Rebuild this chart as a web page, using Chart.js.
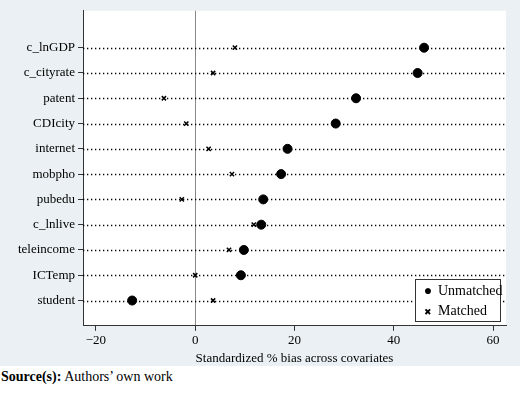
<!DOCTYPE html>
<html>
<head>
<meta charset="utf-8">
<script src="https://cdn.jsdelivr.net/npm/chart.js@4"></script>
<style>
  body { margin: 0; background: #fff; font-family: 'Liberation Serif', serif; }
  #wrap { position: relative; width: 520px; height: 366px; background: #eaf0f3; }
  #legend { position: absolute; left: 415px; top: 279px; width: 86px; height: 43px; background: #fff;
            border: 1px solid #333; font-size: 14px; line-height: 20px; padding: 1px 0 0 5px; box-sizing: border-box;
            white-space: nowrap; }
  #legend span.m { display: inline-block; width: 14px; text-align: center; margin-right: 3px; }
  #source { font-size: 14px; padding: 3px 0 0 1px; }
</style>
</head>
<body>
<div id="wrap">
  <canvas id="chart" width="520" height="366"></canvas>
  <div id="legend">
    <div><span class="m">&#9679;</span>Unmatched</div>
    <div><span class="m" style="font-size:9px">&#10006;</span>Matched</div>
  </div>
</div>
<div id="source"><b>Source(s):</b> Authors’ own work</div>
<script>
const variables = ['c_lnGDP', 'c_cityrate', 'patent', 'CDIcity', 'internet', 'mobpho', 'pubedu', 'c_lnlive', 'teleincome', 'ICTemp', 'student'];
const unmatched = [46.1, 44.8, 32.4, 28.3, 18.6, 17.3, 13.7, 13.3, 9.8, 9.2, -12.7];
const matched = [8.0, 3.6, -6.3, -1.8, 2.7, 7.4, -2.7, 11.8, 6.8, 0.0, 3.6];
const xTicks = [-20, 0, 20, 40, 60];

const font = { family: 'Liberation Serif', size: 13 };

const plotBg = {
    id: 'plotBg',
    beforeDraw(chart) {
        const a = chart.chartArea;
        const ctx = chart.ctx;
        ctx.save();
        ctx.fillStyle = '#fff';
        ctx.fillRect(a.left, a.top, a.right - a.left, a.bottom - a.top);
        ctx.restore();
    }
};

new Chart(document.getElementById('chart'), {
    type: 'scatter',
    data: {
        datasets: [
            {
                label: 'Unmatched',
                data: unmatched.map((v, i) => ({ x: v, y: i + 1 })),
                pointStyle: 'circle',
                pointRadius: 4.5,
                backgroundColor: '#000',
                borderColor: '#000'
            },
            {
                label: 'Matched',
                data: matched.map((v, i) => ({ x: v, y: i + 1 })),
                pointStyle: 'crossRot',
                pointRadius: 3,
                borderWidth: 1.5,
                borderColor: '#000'
            }
        ]
    },
    options: {
        responsive: false,
        animation: false,
        layout: { padding: { top: -7, right: 14 } },
        plugins: { legend: { display: false }, tooltip: { enabled: false } },
        scales: {
            x: {
                min: -22.6,
                max: 62.6,
                afterBuildTicks(scale) { scale.ticks = xTicks.map(v => ({ value: v })); },
                ticks: {
                    color: '#000', font: font, padding: 2,
                    callback: v => (v < 0 ? '\u2212' + Math.abs(v) : v)
                },
                grid: {
                    color: ctx => (ctx.tick && ctx.tick.value === 0 ? '#888' : 'rgba(0,0,0,0)'),
                    tickColor: '#333',
                    tickLength: 5
                },
                border: { color: '#333', width: 1 },
                title: { display: true, text: 'Standardized % bias across covariates', color: '#000', font: font, padding: 0 }
            },
            y: {
                reverse: true,
                min: -0.46,
                max: 12,
                afterBuildTicks(scale) { scale.ticks = variables.map((_, i) => ({ value: i + 1 })); },
                afterFit(scale) { scale.width = 83; },
                ticks: {
                    color: '#000', font: font,
                    callback: v => variables[v - 1]
                },
                grid: { drawOnChartArea: false, tickLength: 5, tickColor: '#333' },
                border: { color: '#333', width: 1 }
            }
        }
    },
    plugins: [plotBg, {
        id: 'dots',
        beforeDatasetsDraw(chart) {
            const a = chart.chartArea, ctx = chart.ctx, y = chart.scales.y;
            ctx.save();
            ctx.strokeStyle = '#000';
            ctx.lineWidth = 1.3;
            ctx.setLineDash([1.3, 2.7]);
            variables.forEach((_, i) => {
                const py = Math.round(y.getPixelForValue(i + 1)) + 0.5;
                ctx.beginPath();
                ctx.moveTo(a.left, py);
                ctx.lineTo(a.right, py);
                ctx.stroke();
            });
            ctx.restore();
        }
    }]
});
</script>
</body>
</html>
